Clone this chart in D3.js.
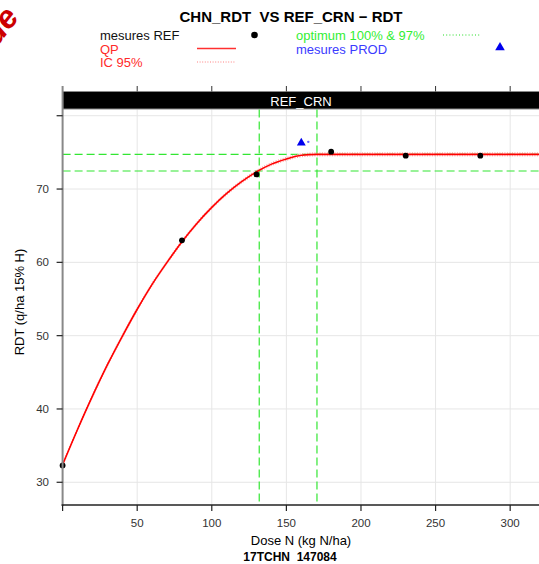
<!DOCTYPE html>
<html>
<head>
<meta charset="utf-8">
<script src="https://cdn.jsdelivr.net/npm/d3@7"></script>
<style>
  body { margin: 0; background: #fff; }
  svg { display: block; font-family: "Liberation Sans", Arial, sans-serif; }
  svg text { white-space: pre; }
</style>
</head>
<body>
<div id="chart"></div>
<script>
// Quadratic-plateau response curve, CHN_RDT vs REF_CRN

const refDose = [0, 80, 130, 180, 230, 280];
const refRdt = [32.3, 63.0, 72.0, 75.1, 74.55, 74.55];

const prodDose = [160];
const prodRdt = [76.3];

// fitted curve
const curveDose = [0, 10, 20, 30, 40, 50, 60, 70, 80, 90, 100, 110, 120, 130, 140, 150, 160, 170.5, 330];
const curveRdt = [32.4, 37.2, 41.75, 46.0, 49.9, 53.6, 57.0, 60.0, 62.8, 65.3, 67.5, 69.4, 71.0, 72.35, 73.4, 74.1, 74.6, 74.73, 74.73];
const icHigh = [32.6, 37.4, 41.95, 46.2, 50.1, 53.8, 57.2, 60.2, 63.0, 65.5, 67.7, 69.6, 71.2, 72.55, 73.6, 74.3, 74.8, 74.93, 74.93];
const icLow = [32.2, 37.0, 41.55, 45.8, 49.7, 53.4, 56.8, 59.8, 62.6, 65.1, 67.3, 69.2, 70.8, 72.15, 73.2, 73.9, 74.4, 74.53, 74.53];

const optDose = [131.8, 170.5];
const optRdt = [72.46, 74.73];

const xTicks = [0, 50, 100, 150, 200, 250, 300];
const yTicks = [30, 40, 50, 60, 70, 80];

const title = 'CHN_RDT  VS REF_CRN \u2212 RDT';
const stripLabel = 'REF_CRN';
const xLabel = 'Dose N (kg N/ha)';
const subLabel = '17TCHN  147084';
const yLabel = 'RDT (q/ha 15% H)';

const width = 539, height = 564;
const x0 = 62.6, xEnd = 541.5;
const yTop = 109.5, yBot = 505;

const svg = d3.select('#chart').append('svg')
    .attr('width', width)
    .attr('height', height);

const xScale = d3.scaleLinear().domain([0, 321]).range([x0, xEnd]);
const yScale = d3.scaleLinear().domain([26.9, 80.85]).range([yBot, yTop]);

// watermark fragment top-left
svg.append('text')
    .attr('transform', 'translate(-3,47) rotate(-52)')
    .style('font-size', '32px')
    .style('font-weight', 'bold')
    .style('font-style', 'italic')
    .attr('fill', '#cc0000')
    .text('ue');

// Title
svg.append('text')
    .attr('x', 291).attr('y', 22)
    .attr('text-anchor', 'middle')
    .style('font-size', '15px')
    .style('font-weight', 'bold')
    .text(title);

// Legend
const leg = svg.append('g').style('font-size', '13px');
leg.append('text').attr('x', 100).attr('y', 40).attr('fill', '#111').text('mesures REF');
leg.append('text').attr('x', 100).attr('y', 53.5).attr('fill', '#ff2a2a').text('QP');
leg.append('text').attr('x', 100).attr('y', 67).attr('fill', '#ff2a2a').text('IC 95%');
leg.append('circle').attr('cx', 254.5).attr('cy', 35).attr('r', 3.3).attr('fill', '#000');
leg.append('line').attr('x1', 197).attr('x2', 236).attr('y1', 48.5).attr('y2', 48.5)
    .attr('stroke', '#ff3030').attr('stroke-width', 1.3);
leg.append('line').attr('x1', 197).attr('x2', 236).attr('y1', 62).attr('y2', 62)
    .attr('stroke', '#ff8080').attr('stroke-width', 1).attr('stroke-dasharray', '1,1.6');
leg.append('text').attr('x', 296).attr('y', 40).attr('fill', '#33ee33').text('optimum 100% & 97%');
leg.append('text').attr('x', 296).attr('y', 53.5).attr('fill', '#3b3bff').text('mesures PROD');
leg.append('line').attr('x1', 443).attr('x2', 481).attr('y1', 35).attr('y2', 35)
    .attr('stroke', '#22dd22').attr('stroke-width', 1).attr('stroke-dasharray', '1,2.2');
leg.append('path')
    .attr('d', d3.symbol(d3.symbolTriangle, 40)())
    .attr('transform', 'translate(500,47.5)')
    .attr('fill', '#0000ee');

// Grid
const g = svg.append('g');
g.selectAll('.gx').data(xTicks.filter(d => d > 0)).join('line')
    .attr('x1', d => xScale(d)).attr('x2', d => xScale(d))
    .attr('y1', yTop).attr('y2', yBot)
    .attr('stroke', '#e6e6e6').attr('stroke-width', 1);
g.selectAll('.gy').data(yTicks).join('line')
    .attr('x1', x0).attr('x2', xEnd)
    .attr('y1', d => yScale(d)).attr('y2', d => yScale(d))
    .attr('stroke', '#e6e6e6').attr('stroke-width', 1);

// Strip
svg.append('rect')
    .attr('x', x0).attr('y', 91.5)
    .attr('width', xEnd - x0).attr('height', 17.5)
    .attr('fill', '#000')
    .attr('stroke', '#888').attr('stroke-width', 1);
svg.append('text')
    .attr('x', 301).attr('y', 105.5)
    .attr('text-anchor', 'middle')
    .attr('fill', '#fff')
    .style('font-size', '13px')
    .text(stripLabel);
// top ticks
svg.selectAll('.tt').data(xTicks.filter(d => d > 0)).join('line')
    .attr('x1', d => xScale(d)).attr('x2', d => xScale(d))
    .attr('y1', 86).attr('y2', 91.5)
    .attr('stroke', '#333').attr('stroke-width', 1);

// Optimum lines
const green = '#33e633';
svg.selectAll('.oh').data(optRdt).join('line')
    .attr('x1', x0).attr('x2', xEnd)
    .attr('y1', d => yScale(d)).attr('y2', d => yScale(d))
    .attr('stroke', green).attr('stroke-width', 1.2)
    .attr('stroke-dasharray', '8,4');
svg.selectAll('.ov').data(optDose).join('line')
    .attr('x1', d => xScale(d)).attr('x2', d => xScale(d))
    .attr('y1', yTop).attr('y2', yBot)
    .attr('stroke', green).attr('stroke-width', 1.2)
    .attr('stroke-dasharray', '8,4');

// Curves
const line = d3.line()
    .x(d => xScale(d[0]))
    .y(d => yScale(d[1]))
    .curve(d3.curveMonotoneX);

svg.append('clipPath').attr('id', 'pclip')
    .append('rect').attr('x', x0).attr('y', yTop)
    .attr('width', xEnd - x0).attr('height', yBot - yTop);

const plot = svg.append('g').attr('clip-path', 'url(#pclip)');

[icHigh, icLow].forEach(ic => {
    plot.append('path')
        .datum(curveDose.map((d, i) => [d, ic[i]]))
        .attr('fill', 'none')
        .attr('stroke', '#ff8c8c')
        .attr('stroke-width', 1)
        .attr('stroke-dasharray', '1,1.5')
        .attr('d', line);
});

plot.append('path')
    .datum(curveDose.map((d, i) => [d, curveRdt[i]]))
    .attr('fill', 'none')
    .attr('stroke', '#ff0000')
    .attr('stroke-width', 1.6)
    .attr('d', line);

// Points
svg.selectAll('.ref').data(refDose).join('circle')
    .attr('cx', d => xScale(d))
    .attr('cy', (d, i) => yScale(refRdt[i]))
    .attr('r', 2.9)
    .attr('fill', '#000');

svg.selectAll('.prod').data(prodDose).join('path')
    .attr('d', d3.symbol(d3.symbolTriangle, 34)())
    .attr('transform', (d, i) => `translate(${xScale(d)},${yScale(prodRdt[i])})`)
    .attr('fill', '#0000ee');
svg.selectAll('.prodDot').data(prodDose).join('circle')
    .attr('cx', d => xScale(d) + 7)
    .attr('cy', (d, i) => yScale(prodRdt[i]) - 1)
    .attr('r', 1.2)
    .attr('fill', '#6a6aff');

// Axes
svg.append('line')
    .attr('x1', x0).attr('x2', x0).attr('y1', 86).attr('y2', yBot + 1)
    .attr('stroke', '#888').attr('stroke-width', 2);
svg.append('line')
    .attr('x1', x0 - 1).attr('x2', xEnd).attr('y1', yBot).attr('y2', yBot)
    .attr('stroke', '#222').attr('stroke-width', 1.6);

const ax = svg.append('g').style('font-size', '11.5px').attr('fill', '#333');
ax.selectAll('.xt').data(xTicks).join('line')
    .attr('x1', d => xScale(d)).attr('x2', d => xScale(d))
    .attr('y1', yBot).attr('y2', yBot + 6)
    .attr('stroke', '#222').attr('stroke-width', 1.2);
ax.selectAll('.xl').data(xTicks.filter(d => d > 0)).join('text')
    .attr('x', d => xScale(d)).attr('y', 526.5)
    .attr('text-anchor', 'middle')
    .text(d => d);
ax.selectAll('.yt').data(yTicks).join('line')
    .attr('x1', x0 - 6).attr('x2', x0)
    .attr('y1', d => yScale(d)).attr('y2', d => yScale(d))
    .attr('stroke', '#222').attr('stroke-width', 1.2);
ax.selectAll('.yl').data(yTicks.filter(d => d < 80)).join('text')
    .attr('x', 49).attr('y', d => yScale(d) + 4)
    .attr('text-anchor', 'end')
    .text(d => d);

// Labels
svg.append('text')
    .attr('x', 301).attr('y', 545)
    .attr('text-anchor', 'middle')
    .style('font-size', '13px')
    .text(xLabel);
svg.append('text')
    .attr('x', 290).attr('y', 560.5)
    .attr('text-anchor', 'middle')
    .style('font-size', '12px')
    .style('font-weight', 'bold')
    .text(subLabel);
svg.append('text')
    .attr('transform', 'translate(24,302) rotate(-90)')
    .attr('text-anchor', 'middle')
    .style('font-size', '13px')
    .text(yLabel);
</script>
</body>
</html>
